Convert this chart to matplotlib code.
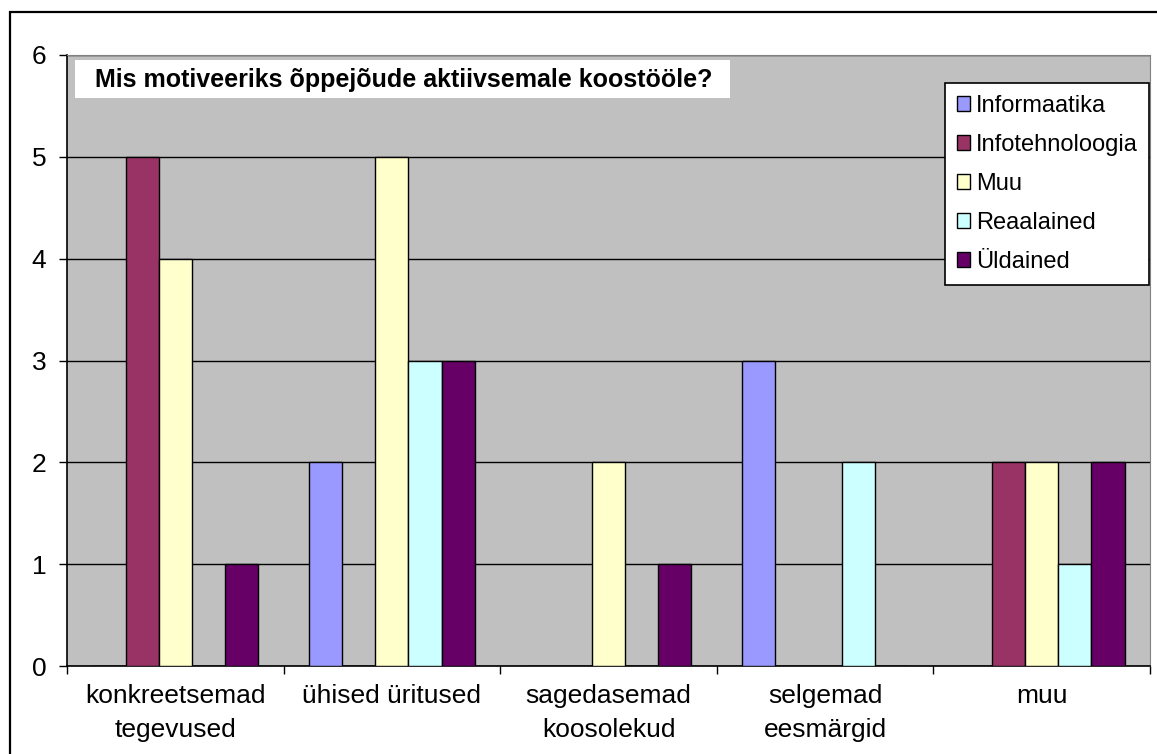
import numpy as np
import matplotlib.pyplot as plt
from matplotlib.patches import Rectangle

plt.rcParams['font.family'] = ['Liberation Sans', 'DejaVu Sans']

categories = ["konkreetsemad\ntegevused", "ühised üritused", "sagedasemad\nkoosolekud",
              "selgemad\neesmärgid", "muu"]
series = ["Informaatika", "Infotehnoloogia", "Muu", "Reaalained", "Üldained"]
informaatika = [0, 2, 0, 3, 0]
infotehnoloogia = [5, 0, 0, 0, 2]
muu = [4, 5, 2, 0, 2]
reaalained = [0, 3, 0, 2, 1]
yldained = [1, 3, 1, 0, 2]
colors = ["#9999FF", "#993366", "#FFFFCC", "#CCFFFF", "#660066"]
title = "Mis motiveeriks õppejõude aktiivsemale koostööle?"

values = [informaatika, infotehnoloogia, muu, reaalained, yldained]

W, H = 1157, 754
fig = plt.figure(figsize=(W / 100, H / 100), dpi=100)
ax = fig.add_axes([67 / W, (H - 666) / H, (1150 - 67) / W, (666 - 55) / H])
ax.set_facecolor("#C0C0C0")

# outer chart border (cut off at right and bottom like the original)
fig.patches.append(Rectangle((10 / W, -0.1), 1.5, (H - 12) / H + 0.1, transform=fig.transFigure,
                             fill=False, lw=1.6, ec="black"))

bw = 0.153
x = np.arange(len(categories)) + 0.5
for i, (name, vals) in enumerate(zip(series, values)):
    ax.bar(x + (i - 2) * bw, vals, width=bw, color=colors[i], edgecolor="black",
           linewidth=1, label=name, zorder=3)

ax.set_xlim(0, 5)
ax.set_ylim(0, 6)
ax.set_yticks(range(7))
ax.grid(axis="y", color="black", linewidth=1, zorder=1)

ax.set_xticks(range(6))
ax.set_xticklabels([])
ax.set_xticks(x, minor=True)
ax.set_xticklabels(categories, minor=True, fontsize=19, linespacing=1.5)
ax.tick_params(axis="x", which="major", length=6, width=1, direction="out")
ax.tick_params(axis="x", which="minor", length=0, pad=13)
ax.tick_params(axis="y", length=6, width=1, labelsize=19, pad=9)
for lab in ax.get_xticklabels(minor=True):
    lab.set_verticalalignment("top")

for s in ["top", "right"]:
    ax.spines[s].set_color("#808080")
for s in ["left", "bottom"]:
    ax.spines[s].set_color("black")
    ax.spines[s].set_linewidth(1.2)

# title box inside the plot area
ax.add_patch(Rectangle((75 / W, (H - 98) / H), (730 - 75) / W, 38 / H,
                       transform=fig.transFigure, fc="white", ec="none", zorder=4))
ax.text(95 / W, (H - 80) / H, title, transform=fig.transFigure, fontsize=18,
        fontweight="bold", va="center", ha="left", zorder=6)

leg = ax.legend(loc="upper left", bbox_to_anchor=((945 - 67) / (1150 - 67), (666 - 83) / (666 - 55)),
                fontsize=17, frameon=True, fancybox=False, framealpha=1, edgecolor="black",
                handlelength=0.55, handleheight=0.55, handletextpad=0.25, labelspacing=0.72,
                borderpad=0.5, borderaxespad=0)
leg.get_frame().set_linewidth(1.2)
leg.set_zorder(5)

fig.savefig("out.png", dpi=100)
